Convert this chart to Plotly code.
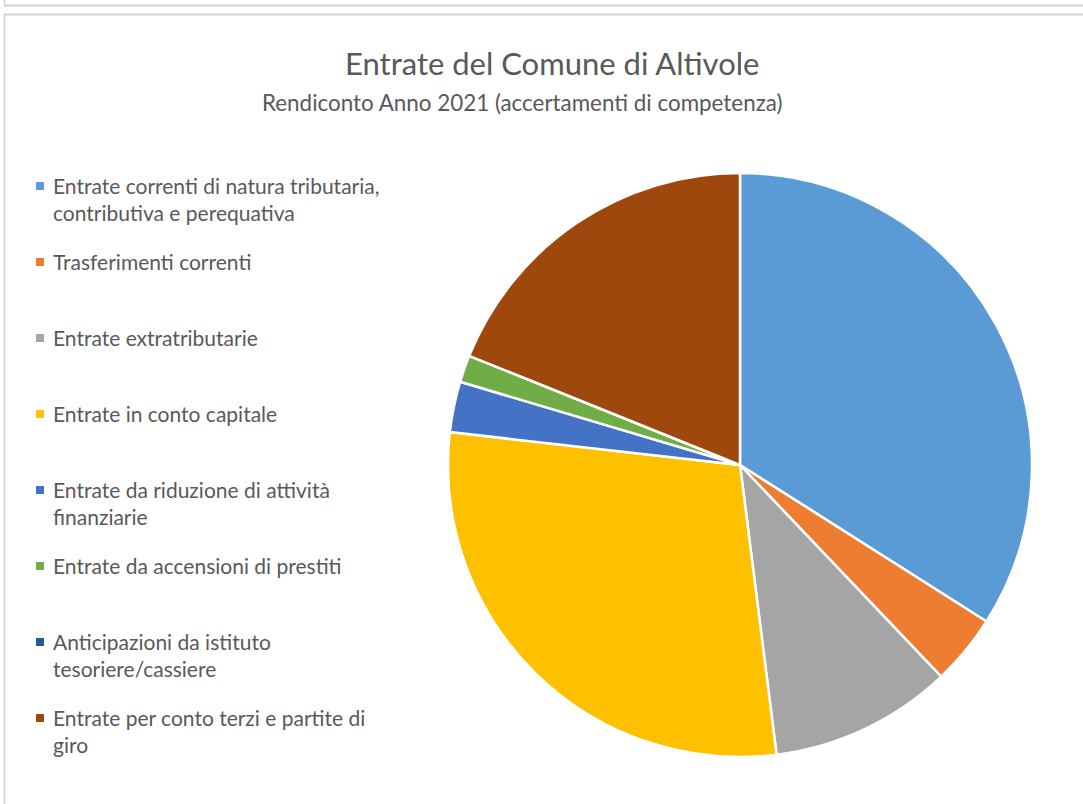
import plotly.graph_objects as go

# Data (approximate shares in %)
categories = [
    "Entrate correnti di natura tributaria,<br>contributiva e perequativa",
    "Trasferimenti correnti",
    "Entrate extratributarie",
    "Entrate in conto capitale",
    "Entrate da riduzione di attività<br>finanziarie",
    "Entrate da accensioni di prestiti",
    "Anticipazioni da istituto<br>tesoriere/cassiere",
    "Entrate per conto terzi e partite di<br>giro",
]
values = [34.0, 3.9, 10.1, 28.8, 2.8, 1.5, 0.0, 18.9]
colors = ["#5B9BD5", "#ED7D31", "#A5A5A5", "#FFC000", "#4472C4", "#70AD47", "#255E91", "#9E480E"]

title_text = "Entrate del Comune di Altivole"
subtitle_text = "Rendiconto Anno 2021 (accertamenti di competenza)"

W, H = 1083, 804
FONT = "Lato"
TXT = "#595959"


def px(x):
    return x / W


def py(y):
    return 1 - y / H


fig = go.Figure(go.Pie(
    labels=categories,
    values=values,
    sort=False,
    direction="clockwise",
    rotation=0,
    textinfo="none",
    hoverinfo="label+percent",
    marker=dict(colors=colors, line=dict(color="white", width=2.5)),
    domain=dict(x=[px(448), px(1032)], y=[py(757), py(173)]),
    showlegend=False,
))

annotations = [
    dict(text=title_text, x=px(552), y=py(63), xref="paper", yref="paper",
         showarrow=False, xanchor="center", yanchor="middle",
         font=dict(family=FONT, size=31, color=TXT)),
    dict(text=subtitle_text, x=px(522), y=py(102), xref="paper", yref="paper",
         showarrow=False, xanchor="center", yanchor="middle",
         font=dict(family=FONT, size=22.4, color=TXT)),
]
shapes = [
    dict(type="line", xref="paper", yref="paper", x0=px(4), x1=1.0, y0=py(5.5), y1=py(5.5),
         line=dict(color="#D0D0D0", width=2)),
    dict(type="line", xref="paper", yref="paper", x0=px(4), x1=1.0, y0=py(14.5), y1=py(14.5),
         line=dict(color="#D0D0D0", width=2)),
    dict(type="line", xref="paper", yref="paper", x0=px(4.5), x1=px(4.5), y0=0, y1=py(14),
         line=dict(color="#D0D0D0", width=1.5)),
    dict(type="line", xref="paper", yref="paper", x0=px(4.5), x1=px(4.5), y0=py(5), y1=1.0,
         line=dict(color="#D0D0D0", width=1.5)),
]

# Legend (one entry per category, same order and colours as the slices)
LEG_TOP, LEG_STEP = 186, 76
for i, (lab, col) in enumerate(zip(categories, colors)):
    yc = LEG_TOP + LEG_STEP * i
    annotations.append(dict(
        text=lab, x=px(52), y=py(yc - 14), xref="paper", yref="paper",
        showarrow=False, xanchor="left", yanchor="top", align="left",
        font=dict(family=FONT, size=21, color=TXT), borderpad=0,
    ))
    shapes.append(dict(
        type="rect", xref="paper", yref="paper",
        x0=px(36), x1=px(44), y0=py(yc + 4), y1=py(yc - 4),
        fillcolor=col, line=dict(width=0),
    ))

fig.update_layout(
    width=W, height=H,
    margin=dict(l=0, r=0, t=0, b=0),
    paper_bgcolor="white",
    plot_bgcolor="white",
    font=dict(family=FONT, color=TXT),
    annotations=annotations,
    shapes=shapes,
)

fig.write_html("out.html", config={"displayModeBar": False},
               post_script="document.body.style.margin='0';")
